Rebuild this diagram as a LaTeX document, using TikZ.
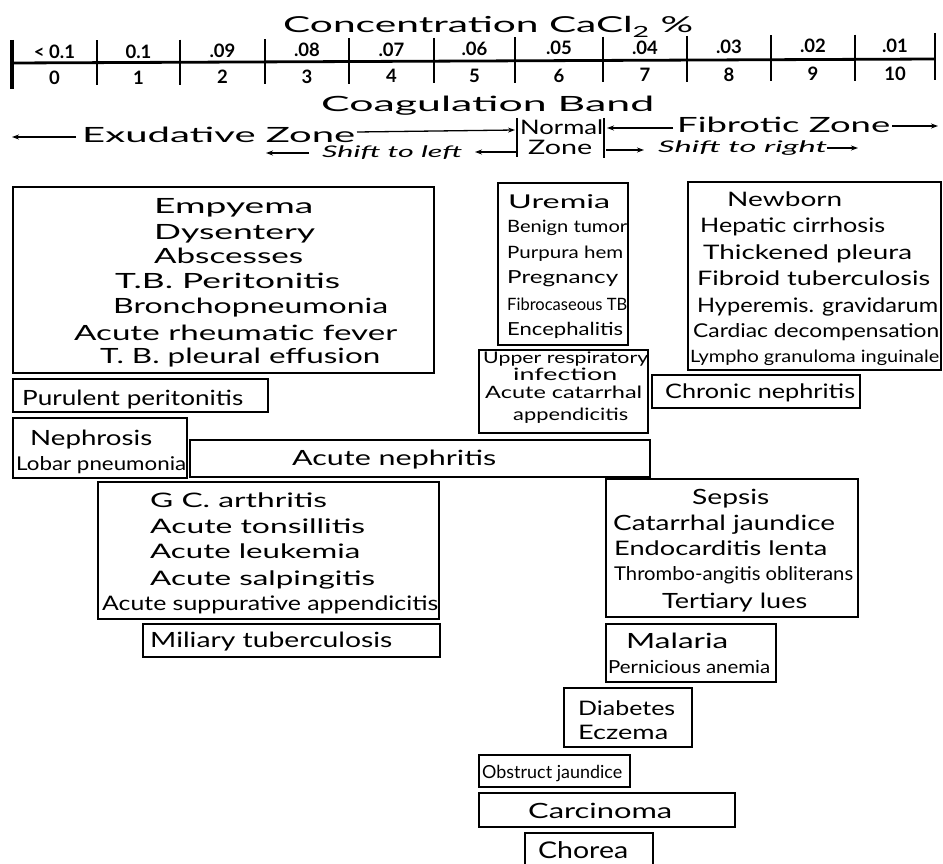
\documentclass[tikz,border=0pt]{standalone}
\usepackage{fontspec}
\usepackage{graphicx}
\setmainfont{Lato}
\usetikzlibrary{arrows.meta}
\newlength\fitlen
\newcommand\fitt[2]{\settowidth\fitlen{#2}\pgfmathsetmacro\fitsx{#1/\fitlen}\scalebox{\fitsx}[1]{#2}}
\newcommand\txl[6]{\node[lbl=#5] (#1) at (#2,#3) {\fitt{#4}{#6}};}
\newcommand\bxn[5]{\node[bx,minimum width={(#4)-(#2)},minimum height={(#5)-(#3)}] (#1) at (#2,#3) {};}
\begin{document}
\begin{tikzpicture}[x=1pt,y=-1pt,
  bx/.style={draw,line width=1.5pt,inner sep=0pt,outer sep=0pt,anchor=north west},
  lbl/.style={anchor=base west,inner sep=0pt,font=\fontsize{#1}{#1}\selectfont},
  axl/.style={anchor=base,inner sep=0pt,font=\fontsize{18.5}{18.5}\selectfont\bfseries},
  arr/.style={line width=1.3pt,-{Stealth[length=7pt,width=5pt]}},
  tk/.style={line width=2.4pt},
  bar/.style={line width=2.2pt}]
\useasboundingbox (0,0) rectangle (943,864);
% ---- axis
\draw[line width=2.8pt] (12,63) -- (935,59);
\draw[line width=3.6pt] (12,40) -- (12,89);
\draw[tk] (935,33) -- (935,80);
\foreach \x in {97,180,265,349,434,515,603,687,771,855}
  \draw[tk] (\x,{41-7*(\x-12)/923}) -- (\x,{86-6*(\x-12)/923});
\foreach \x/\u/\l [count=\i] in {54.5/{< 0.1}/0,138.5/0.1/1,222.5/.09/2,307/.08/3,391.5/.07/4,474.5/.06/5,559/.05/6,645/.04/7,729/.03/8,813/.02/9,895/.01/10}{
  \node[axl] (up\i) at (\x,{59-7*(\x-12)/923}) {\u};
  \node[axl] (lo\i) at (\x,{85-5*(\x-12)/923}) {\l};
}
% ---- headings
\txl{title}{283}{33}{410}{22}{Concentration CaCl\textsubscript{2} \%}
\txl{coag}{321}{112}{333}{21}{Coagulation Band}
\txl{exz}{82}{143}{273}{21}{Exudative Zone}
\txl{norm}{520}{135}{83}{20}{Normal}
\txl{zone}{528}{155}{64}{20}{Zone}
\txl{fbz}{677}{133}{213}{21}{Fibrotic Zone}
\txl{sl}{322}{158}{140}{16}{\itshape Shift to left}
\txl{sr}{658}{153}{169}{16}{\itshape Shift to right}
\coordinate (nl1) at (517,118); \coordinate (nl2) at (517,157);
\coordinate (nr1) at (604,118); \coordinate (nr2) at (604,158);
\draw[bar] (nl1) -- (nl2);
\draw[bar] (nr1) -- (nr2);
\coordinate (a1s) at (76,137);  \coordinate (a1e) at (12,137);
\coordinate (a2s) at (357,132); \coordinate (a2e) at (515,130);
\coordinate (a3s) at (673,128); \coordinate (a3e) at (607,128);
\coordinate (a4s) at (892,126); \coordinate (a4e) at (938,126);
\coordinate (a5s) at (309,153); \coordinate (a5e) at (266,153);
\coordinate (a6s) at (516,152); \coordinate (a6e) at (475,152);
\coordinate (a7s) at (606,150); \coordinate (a7e) at (644,150);
\coordinate (a8s) at (827,148); \coordinate (a8e) at (858,148);
\foreach \k in {1,...,8} \draw[arr] (a\k s) -- (a\k e);
% ---- boxes
\bxn{b1}{13}{187}{434}{373}
\txl{t11}{154}{214}{159}{21}{Empyema}
\txl{t12}{154}{240}{161}{21}{Dysentery}
\txl{t13}{154}{263}{149}{21}{Abscesses}
\txl{t14}{115}{288}{225}{21}{T.B. Peritonitis}
\txl{t15}{113}{313}{275}{21}{Bronchopneumonia}
\txl{t16}{74}{340}{323}{21}{Acute rheumatic fever}
\txl{t17}{100}{363}{280}{21}{T. B. pleural effusion}
\bxn{b2}{13}{379}{268}{412}
\txl{t21}{22}{405}{221}{21}{Purulent peritonitis}
\bxn{b3}{13}{418}{187}{478}
\txl{t31}{30}{445}{122}{21}{Nephrosis}
\txl{t32}{16}{470}{170}{19}{Lobar pneumonia}
\bxn{b4}{190}{440}{650}{477}
\txl{t41}{292}{465}{204}{21}{Acute nephritis}
\bxn{b5}{498}{183}{628}{345}
\txl{t51}{508}{208}{102}{19}{Uremia}
\txl{t52}{507}{232}{120}{17}{Benign tumor}
\txl{t53}{507}{258}{116}{17}{Purpura hem}
\txl{t54}{507}{283}{111}{18}{Pregnancy}
\txl{t55}{507}{310}{120}{17}{Fibrocaseous TB}
\txl{t56}{507}{335}{116}{18}{Encephalitis}
\bxn{b6}{479}{350}{648}{433}
\txl{t61}{483}{363}{165}{16}{Upper respiratory}
\txl{t62}{513}{380}{104}{17}{infection}
\txl{t63}{485}{398}{157}{17}{Acute catarrhal}
\txl{t64}{513}{420}{115}{17}{appendicitis}
\bxn{b7}{688}{182}{941}{370}
\txl{t71}{727}{207}{115}{20}{Newborn}
\txl{t72}{700}{233}{185}{20}{Hepatic cirrhosis}
\txl{t73}{703}{259}{209}{20}{Thickened pleura}
\txl{t74}{697}{285}{233}{20}{Fibroid tuberculosis}
\txl{t75}{697}{312}{241}{20}{Hyperemis. gravidarum}
\txl{t76}{693}{337}{246}{19}{Cardiac decompensation}
\txl{t77}{690}{362}{249}{17}{Lympho granuloma inguinale}
\bxn{b8}{652}{375}{860}{408}
\txl{t81}{665}{398}{190}{20}{Chronic nephritis}
\bxn{b9}{98}{482}{439}{619}
\txl{t91}{150}{507}{177}{20}{G C. arthritis}
\txl{t92}{150}{533}{215}{20}{Acute tonsillitis}
\txl{t93}{150}{558}{210}{20}{Acute leukemia}
\txl{t94}{150}{585}{225}{20}{Acute salpingitis}
\txl{t95}{102}{610}{336}{20}{Acute suppurative appendicitis}
\bxn{b10}{143}{624}{440}{657}
\txl{t101}{150}{647}{242}{21}{Miliary tuberculosis}
\bxn{b11}{606}{479}{858}{617}
\txl{t111}{692}{504}{77}{21}{Sepsis}
\txl{t112}{613}{530}{222}{21}{Catarrhal jaundice}
\txl{t113}{614}{555}{213}{20}{Endocarditis lenta}
\txl{t114}{614}{580}{239}{19}{Thrombo-angitis obliterans}
\txl{t115}{662}{608}{145}{21}{Tertiary lues}
\bxn{b12}{606}{624}{776}{682}
\txl{t121}{626}{648}{102}{21}{Malaria}
\txl{t122}{608}{673}{162}{18}{Pernicious anemia}
\bxn{b13}{564}{688}{692}{747}
\txl{t131}{578}{715}{97}{20}{Diabetes}
\txl{t132}{578}{739}{90}{20}{Eczema}
\bxn{b14}{479}{755}{630}{787}
\txl{t141}{482}{778}{140}{18}{Obstruct jaundice}
\bxn{b15}{479}{793}{735}{827}
\txl{t151}{528}{818}{144}{21}{Carcinoma}
\bxn{b16}{525}{833}{653}{872}
\txl{t161}{538}{858}{90}{23}{Chorea}
\end{tikzpicture}
\end{document}
